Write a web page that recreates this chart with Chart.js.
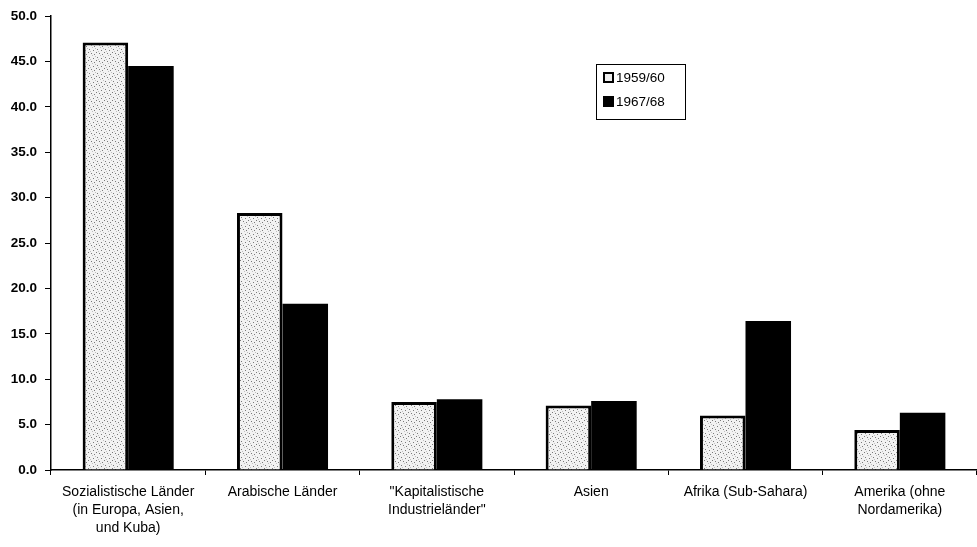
<!DOCTYPE html>
<html lang="de">

<head>
    <meta charset="UTF-8">
    <title>Anteile nach Ländergruppen</title>
    <style>
        body {
            margin: 0;
            background: #fff;
            font-family: "Liberation Sans", Arial, sans-serif;
        }

        #wrap {
            position: relative;
            width: 977px;
            height: 547px;
        }

        #legend {
            position: absolute;
            left: 596px;
            top: 64px;
            width: 88px;
            height: 54px;
            border: 1px solid #000;
            font-size: 13.5px;
            color: #000;
        }

        .item {
            position: absolute;
            left: 6px;
            height: 14px;
            line-height: 14px;
        }

        .box {
            display: inline-block;
            width: 9px;
            height: 9px;
            margin-right: 2px;
            vertical-align: -1px;
        }
    </style>
    <script src="https://cdn.jsdelivr.net/npm/chart.js"></script>
</head>

<body>
    <div id="wrap">
        <canvas id="chart" width="977" height="547"></canvas>
        <div id="legend">
            <div class="item" style="top:6px"><span class="box" style="border:2px solid #000;width:7px;height:7px;background:#eee"></span>1959/60</div>
            <div class="item" style="top:30px"><span class="box" style="background:#000;width:11px;height:11px"></span>1967/68</div>
        </div>
    </div>

    <script>
        // data
        const categories = [
            ['Sozialistische Länder', '(in Europa, Asien,', 'und Kuba)'],
            'Arabische Länder',
            ['"Kapitalistische', 'Industrieländer"'],
            'Asien',
            'Afrika (Sub-Sahara)',
            ['Amerika (ohne', 'Nordamerika)']
        ];
        const seriesNames = ['1959/60', '1967/68'];
        const values5960 = [47.1, 28.3, 7.5, 7.1, 6.0, 4.4];
        const values6768 = [44.5, 18.3, 7.8, 7.6, 16.4, 6.3];

        // stippled light grey fill like the printed original
        function stipple() {
            const c = document.createElement('canvas');
            c.width = 8;
            c.height = 8;
            const g = c.getContext('2d');
            g.fillStyle = '#f2f2f2';
            g.fillRect(0, 0, 8, 8);
            g.fillStyle = '#7a7a7a';
            [[1, 1], [5, 2], [3, 5], [6, 6], [0, 4]].forEach(p => g.fillRect(p[0], p[1], 1, 1));
            g.fillStyle = '#c0c0c0';
            [[2, 3], [7, 0], [4, 7]].forEach(p => g.fillRect(p[0], p[1], 1, 1));
            return g.createPattern(c, 'repeat');
        }

        function createChart() {
            const ctx = document.getElementById('chart').getContext('2d');
            new Chart(ctx, {
                type: 'bar',
                data: {
                    labels: categories,
                    datasets: [
                        {
                            label: seriesNames[0],
                            data: values5960,
                            backgroundColor: stipple(),
                            borderColor: '#000',
                            borderWidth: 3,
                            borderSkipped: 'bottom'
                        },
                        {
                            label: seriesNames[1],
                            data: values6768,
                            backgroundColor: '#000',
                            borderWidth: 0
                        }
                    ]
                },
                options: {
                    responsive: false,
                    animation: false,
                    categoryPercentage: 0.59,
                    barPercentage: 1,
                    layout: {
                        padding: { top: 14, right: 0, left: 0, bottom: 0 }
                    },
                    plugins: {
                        legend: { display: false },
                        tooltip: { enabled: false }
                    },
                    scales: {
                        x: {
                            offset: true,
                            grid: {
                                display: true,
                                drawOnChartArea: false,
                                drawTicks: true,
                                tickLength: 5,
                                color: '#000',
                                lineWidth: 1
                            },
                            border: { color: '#000', width: 1.5 },
                            ticks: {
                                color: '#000',
                                maxRotation: 0,
                                autoSkip: false,
                                padding: 8,
                                font: { family: '"Liberation Sans", Arial, sans-serif', size: 14, lineHeight: 1.3 }
                            },
                            afterFit: (s) => { s.height = 77; }
                        },
                        y: {
                            min: 0,
                            max: 50,
                            grid: {
                                display: true,
                                drawOnChartArea: false,
                                drawTicks: true,
                                tickLength: 6,
                                color: '#000'
                            },
                            border: { color: '#000', width: 1.5 },
                            ticks: {
                                stepSize: 5,
                                color: '#000',
                                padding: 8,
                                callback: (v) => v.toFixed(1),
                                font: { family: '"Liberation Sans", Arial, sans-serif', size: 13.5, weight: 'bold' }
                            },
                            afterFit: (s) => { s.width = 51; }
                        }
                    }
                }
            });
        }

        window.onload = function () {
            createChart();
        };
    </script>
</body>

</html>
